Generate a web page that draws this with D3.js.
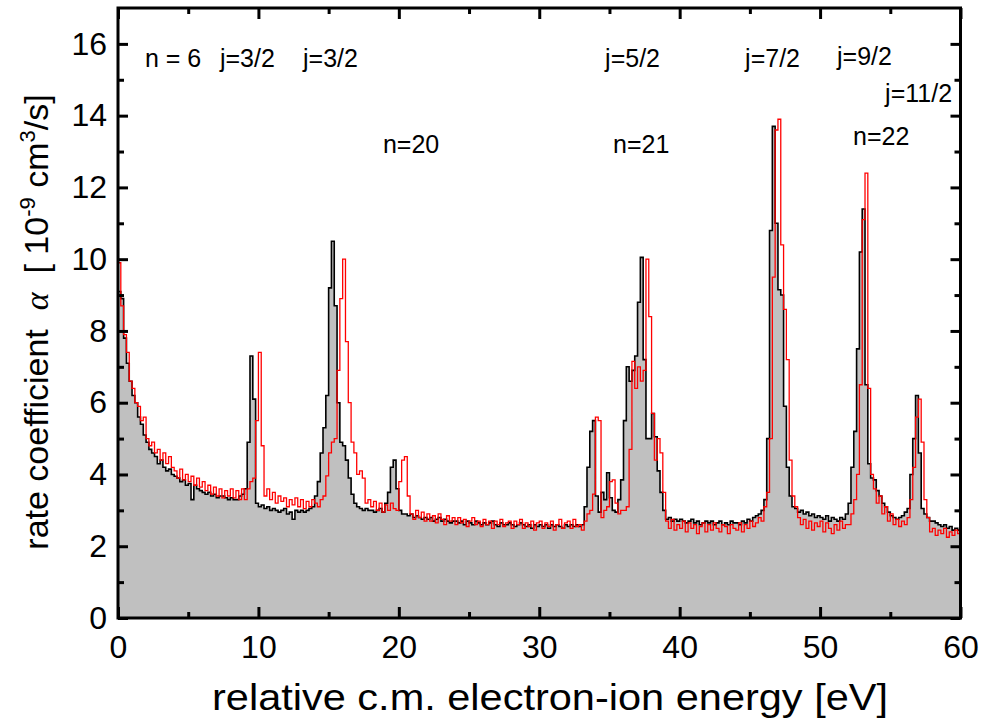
<!DOCTYPE html>
<html>
<head>
<meta charset="utf-8">
<script src="https://cdn.jsdelivr.net/npm/d3@7"></script>
<style>
  html, body { margin: 0; padding: 0; background: #fff; }
  svg { display: block; font-family: "Liberation Sans", Arial, sans-serif; }
</style>
</head>
<body>
<svg id="chart"></svg>
<script>
// bin width of the energy grid [eV]
const binWidth = 0.2;

// measured rate coefficient (black outline, grey filled), 10^-9 cm^3/s, one value per bin
const measured = [
  9.1, 8.9, 7.8, 7.1, 6.6, 6.2, 6.0, 5.6, 5.4, 5.1,
  4.9, 4.7, 4.6, 4.5, 4.3, 4.4, 4.2, 4.1, 4.15, 4.0,
  3.95, 3.9, 3.8, 3.85, 3.7, 3.75, 3.3, 3.7, 3.6, 3.55,
  3.5, 3.45, 3.5, 3.4, 3.45, 3.35, 3.4, 3.4, 3.35, 3.3,
  3.35, 3.3, 3.3, 3.4, 3.45, 3.6, 4.9, 7.3, 6.1, 3.2,
  3.1, 3.15, 3.05, 3.1, 3.0, 3.05, 3.0, 2.95, 3.0, 3.05,
  2.9, 2.95, 2.75, 3.0, 2.95, 3.0, 2.95, 3.0, 3.05, 3.1,
  3.4, 3.8, 4.6, 5.3, 6.2, 9.2, 10.5, 8.7, 6.0, 4.9,
  4.8, 4.4, 3.9, 3.45, 3.2, 3.1, 3.05, 3.0, 3.05, 3.0,
  3.0, 2.95, 3.0, 3.05, 2.95, 3.2, 3.5, 4.2, 4.4, 3.6,
  3.0, 2.9, 2.9, 2.85, 2.9, 2.8, 2.85, 2.8, 2.75, 2.8,
  2.75, 2.8, 2.7, 2.75, 2.8, 2.7, 2.75, 2.7, 2.65, 2.7,
  2.7, 2.65, 2.7, 2.6, 2.7, 2.65, 2.6, 2.7, 2.65, 2.6,
  2.65, 2.6, 2.65, 2.7, 2.6, 2.55, 2.65, 2.6, 2.6, 2.65,
  2.6, 2.55, 2.6, 2.65, 2.6, 2.55, 2.6, 2.5, 2.6, 2.55,
  2.6, 2.55, 2.6, 2.5, 2.6, 2.55, 2.6, 2.55, 2.5, 2.6,
  2.55, 2.6, 2.55, 2.6, 2.55, 2.6, 3.1, 4.2, 5.2, 5.5,
  3.4, 2.95, 3.5, 3.3, 4.05, 3.35, 3.0, 2.95, 3.3, 3.85,
  5.5, 7.0, 6.6, 6.9, 7.3, 8.8, 10.05, 7.2, 5.0, 5.0,
  5.7, 5.05, 4.1, 3.5, 3.0, 2.75, 2.8, 2.7, 2.75, 2.7,
  2.75, 2.7, 2.65, 2.7, 2.75, 2.65, 2.7, 2.6, 2.65, 2.7,
  2.65, 2.7, 2.6, 2.65, 2.7, 2.6, 2.65, 2.6, 2.7, 2.65,
  2.65, 2.6, 2.7, 2.65, 2.75, 2.7, 2.8, 2.85, 2.9, 3.0,
  3.3, 5.0, 10.8, 13.7, 11.0, 9.15, 9.0, 5.9, 4.2, 3.4,
  3.1, 3.05, 2.95, 3.0, 2.9, 2.95, 2.85, 2.9, 2.8, 2.85,
  2.8, 2.75, 2.85, 2.7, 2.8, 2.75, 2.7, 2.8, 2.75, 2.9,
  3.2, 4.2, 5.2, 7.5, 10.2, 11.4, 6.5, 4.3, 3.9, 3.85,
  3.55, 3.4, 3.2, 3.1, 2.95, 2.85, 2.8, 2.75, 2.8, 2.85,
  2.95, 3.05, 4.0, 5.0, 6.2, 4.6, 3.05, 2.9, 2.8, 2.7,
  2.7, 2.65, 2.6, 2.55, 2.6, 2.5, 2.55, 2.45, 2.5, 2.45
];

// second spectrum (red line), same bins
const shifted = [
  9.9, 8.7, 7.9, 7.4, 6.6, 6.4, 6.0, 5.9, 5.5, 5.6,
  5.0, 4.8, 4.9, 4.6, 4.7, 4.4, 4.6, 4.3, 4.5, 4.2,
  4.1, 3.9, 4.15, 3.85, 4.0, 3.8, 3.95, 3.7, 3.9, 3.65,
  3.8, 3.55, 3.7, 3.45, 3.65, 3.4, 3.6, 3.35, 3.55, 3.4,
  3.6, 3.35, 3.55, 3.3, 3.6, 3.3, 3.6, 3.8, 3.9, 5.5,
  7.4, 4.8, 3.4, 3.6, 3.3, 3.5, 3.2, 3.4, 3.25, 3.35,
  3.1, 3.3, 3.15, 3.35, 3.1, 3.3, 3.05, 3.25, 3.1, 3.3,
  3.2, 3.1, 3.3, 3.4, 3.96, 4.6, 4.9, 5.0, 6.9, 8.9,
  10.0, 7.7, 6.0, 4.9, 4.6, 4.0, 4.1, 3.9, 3.2, 3.3,
  3.1, 3.25, 3.0, 3.2, 2.95, 3.15, 3.0, 3.2, 3.05, 3.0,
  3.8, 4.4, 4.5, 3.4, 2.9, 2.75, 3.0, 2.8, 2.95, 2.7,
  2.9, 2.7, 2.85, 2.65, 2.9, 2.75, 2.6, 2.85, 2.7, 2.8,
  2.6, 2.8, 2.65, 2.75, 2.55, 2.7, 2.8, 2.6, 2.7, 2.55,
  2.75, 2.6, 2.7, 2.5, 2.7, 2.6, 2.75, 2.55, 2.65, 2.7,
  2.5, 2.7, 2.6, 2.75, 2.5, 2.65, 2.55, 2.7, 2.45, 2.65,
  2.7, 2.5, 2.65, 2.55, 2.7, 2.45, 2.6, 2.75, 2.5, 2.65,
  2.7, 2.5, 2.75, 2.55, 2.6, 2.45, 2.7, 2.9, 3.0, 3.45,
  5.6, 5.5, 2.8, 3.0, 3.1, 3.8, 3.85, 3.2, 2.9, 3.0,
  3.0, 3.1, 4.7, 7.15, 6.4, 7.0, 6.6, 6.9, 10.0, 8.4,
  5.7, 4.4, 5.0, 4.6, 3.5, 2.7, 2.5, 2.75, 2.45, 2.6,
  2.5, 2.7, 2.4, 2.65, 2.5, 2.6, 2.35, 2.55, 2.65, 2.4,
  2.6, 2.45, 2.65, 2.5, 2.4, 2.6, 2.55, 2.35, 2.6, 2.5,
  2.45, 2.65, 2.4, 2.6, 2.5, 2.7, 2.55, 2.65, 2.8, 2.7,
  3.1, 3.5, 5.0, 9.5, 13.6, 13.9, 10.4, 8.6, 7.2, 4.4,
  3.4, 3.1, 2.8, 2.6, 2.75, 2.5, 2.7, 2.45, 2.65, 2.55,
  2.7, 2.4, 2.65, 2.5, 2.35, 2.6, 2.45, 2.7, 2.5, 2.6,
  2.6, 2.9, 3.3, 4.0, 6.5, 11.1, 12.4, 6.4, 4.0, 3.6,
  3.2, 3.4, 2.9, 3.1, 2.7, 2.9, 2.6, 2.75, 2.55, 2.7,
  2.6, 2.8, 3.3, 4.2, 5.6, 6.1, 4.9, 3.3, 2.8, 2.4,
  2.5, 2.3, 2.45, 2.35, 2.5, 2.25, 2.4, 2.3, 2.45, 2.35
];

const xTicks = [0, 10, 20, 30, 40, 50, 60];
const yTicks = [0, 2, 4, 6, 8, 10, 12, 14, 16];

// peak labels: text, energy [eV], rate [10^-9 cm^3/s] at the text baseline
const labelText = ["n = 6", "j=3/2", "j=3/2", "n=20", "j=5/2", "n=21", "j=7/2", "j=9/2", "j=11/2", "n=22"];
const labelE    = [1.92, 7.26, 13.18, 18.87, 34.69, 35.26, 44.66, 51.21, 54.63, 52.35];
const labelRate = [15.35, 15.35, 15.35, 12.95, 15.35, 12.95, 15.35, 15.42, 14.39, 13.17];

const W = 988, H = 720;
const plot = { left: 118, right: 960.5, top: 8, bottom: 618 };

const svg = d3.select("#chart").attr("width", W).attr("height", H);

const x = d3.scaleLinear().domain([0, 60]).range([plot.left, plot.right]);
const y = d3.scaleLinear().domain([0, 17]).range([plot.bottom, plot.top]);

// step data: bin start energies, plus closing point at the end of the last bin
const toSteps = vals => {
  const pts = vals.map((v, i) => ({ e: i * binWidth, v: v }));
  pts.push({ e: vals.length * binWidth, v: vals[vals.length - 1] });
  return pts;
};
const blackPts = toSteps(measured);
const redPts = toSteps(shifted);

svg.append("clipPath").attr("id", "clip")
  .append("rect")
  .attr("x", plot.left).attr("y", plot.top)
  .attr("width", plot.right - plot.left).attr("height", plot.bottom - plot.top);

const g = svg.append("g").attr("clip-path", "url(#clip)");

const area = d3.area()
  .curve(d3.curveStepAfter)
  .x(d => x(d.e))
  .y0(y(0))
  .y1(d => y(d.v));

const line = d3.line()
  .curve(d3.curveStepAfter)
  .x(d => x(d.e))
  .y(d => y(d.v));

g.append("path").datum(blackPts)
  .attr("d", area)
  .attr("fill", "#c0c0c0");

g.append("path").datum(blackPts)
  .attr("d", line)
  .attr("fill", "none")
  .attr("stroke", "#000")
  .attr("stroke-width", 1.6);

g.append("path").datum(redPts)
  .attr("d", line)
  .attr("fill", "none")
  .attr("stroke", "#ff0000")
  .attr("stroke-width", 1.3);

// axes, ticks pointing inwards
const styleAxis = sel => {
  sel.select(".domain").remove();
  sel.selectAll(".tick line").attr("stroke", "#000").attr("stroke-width", 3);
  sel.selectAll(".tick text").attr("fill", "#000").attr("font-size", 32);
};

svg.append("g")
  .attr("transform", `translate(0,${plot.bottom})`)
  .call(d3.axisBottom(x).tickValues(xTicks).tickSize(-11).tickPadding(17).tickFormat(d3.format("d")))
  .call(styleAxis);
svg.append("g")
  .attr("transform", `translate(0,${plot.bottom})`)
  .call(d3.axisBottom(x).tickValues(d3.range(5, 60, 10)).tickSize(-6).tickFormat(""))
  .call(styleAxis);
svg.append("g")
  .attr("transform", `translate(0,${plot.top})`)
  .call(d3.axisTop(x).tickValues(xTicks).tickSize(-11).tickFormat(""))
  .call(styleAxis);
svg.append("g")
  .attr("transform", `translate(0,${plot.top})`)
  .call(d3.axisTop(x).tickValues(d3.range(5, 60, 10)).tickSize(-6).tickFormat(""))
  .call(styleAxis);

svg.append("g")
  .attr("transform", `translate(${plot.left},0)`)
  .call(d3.axisLeft(y).tickValues(yTicks).tickSize(-10).tickPadding(11).tickFormat(d3.format("d")))
  .call(styleAxis);
svg.append("g")
  .attr("transform", `translate(${plot.left},0)`)
  .call(d3.axisLeft(y).tickValues(d3.range(1, 17, 2)).tickSize(-6).tickFormat(""))
  .call(styleAxis);
svg.append("g")
  .attr("transform", `translate(${plot.right},0)`)
  .call(d3.axisRight(y).tickValues(yTicks).tickSize(-10).tickFormat(""))
  .call(styleAxis);
svg.append("g")
  .attr("transform", `translate(${plot.right},0)`)
  .call(d3.axisRight(y).tickValues(d3.range(1, 17, 2)).tickSize(-6).tickFormat(""))
  .call(styleAxis);

// frame
svg.append("rect")
  .attr("x", plot.left).attr("y", plot.top)
  .attr("width", plot.right - plot.left).attr("height", plot.bottom - plot.top)
  .attr("fill", "none")
  .attr("stroke", "#000")
  .attr("stroke-width", 3);

// peak labels
svg.append("g").selectAll("text")
  .data(labelText)
  .enter().append("text")
  .attr("x", (d, i) => x(labelE[i]))
  .attr("y", (d, i) => y(labelRate[i]))
  .attr("font-size", 25)
  .attr("fill", "#000")
  .style("white-space", "pre")
  .text(d => d);

// axis titles
svg.append("text")
  .attr("x", 550).attr("y", 710)
  .attr("text-anchor", "middle")
  .attr("font-size", 36)
  .attr("textLength", 676)
  .attr("lengthAdjust", "spacingAndGlyphs")
  .text("relative c.m. electron-ion energy [eV]");

const yTitle = svg.append("text")
  .attr("transform", "translate(48,322) rotate(-90)")
  .attr("text-anchor", "middle")
  .attr("font-size", 34)
  .style("white-space", "pre");
yTitle.append("tspan").text("rate coefficient  ");
yTitle.append("tspan").attr("font-family", "'Liberation Serif', serif").attr("font-style", "italic").text("α");
yTitle.append("tspan").text("  [ 10");
yTitle.append("tspan").attr("font-size", 22).attr("dy", -13).text("-9");
yTitle.append("tspan").attr("dy", 13).text(" cm");
yTitle.append("tspan").attr("font-size", 22).attr("dy", -13).text("3");
yTitle.append("tspan").attr("dy", 13).text("/s]");
</script>
</body>
</html>
